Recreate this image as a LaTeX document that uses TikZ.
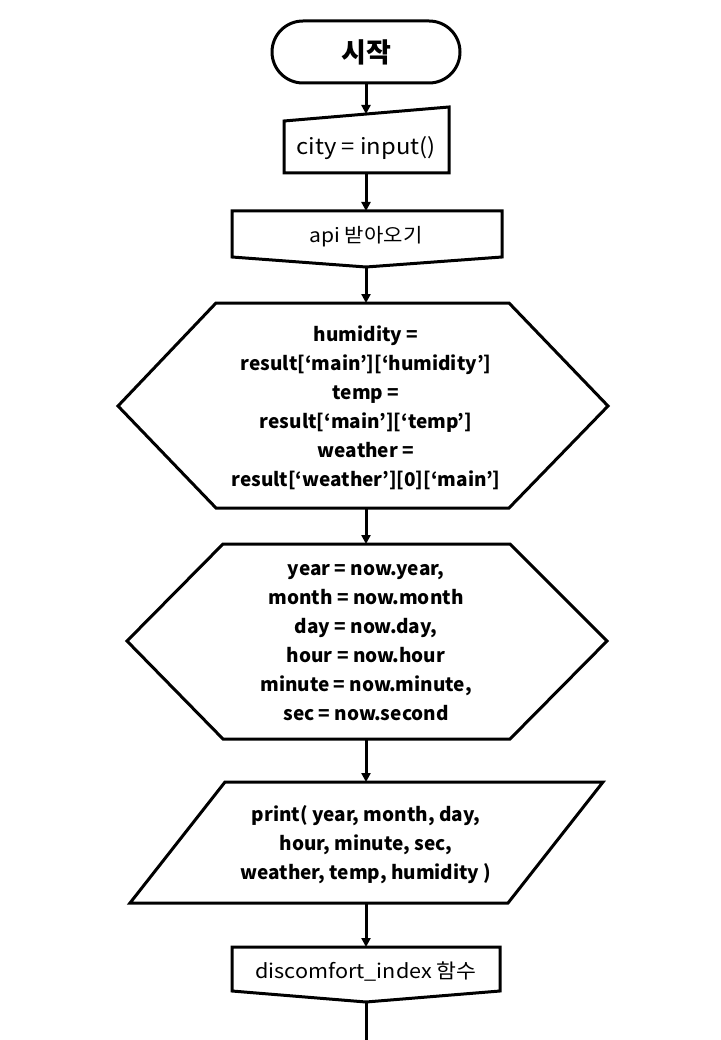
\documentclass[tikz,border=0pt]{standalone}
\usepackage{fontspec}
\setmainfont{Noto Sans CJK KR}
\newfontfamily\widefont[FakeStretch=1.08]{Noto Sans CJK KR}
\usetikzlibrary{arrows.meta}
\begin{document}
\begin{tikzpicture}[x=1pt,y=-1pt,
  shapeline/.style={line width=3pt, line join=miter},
  conn/.style={line width=3pt, -{Triangle[length=9pt,width=9pt]}},
  plainconn/.style={line width=3pt},
  boldtxt/.style={font=\bfseries\fontsize{19}{29}\selectfont, align=center, inner sep=0pt},
  regtxt/.style={font=\widefont\fontsize{19}{29}\selectfont, align=center, inner sep=0pt}]
\useasboundingbox[fill=white] (0,0) rectangle (720,1040);

% start terminal
\draw[shapeline, rounded corners=31pt] (272,21) rectangle (460,83);
\node[boldtxt, font=\bfseries\fontsize{27}{30}\selectfont] (start) at (366,52) {시작};
\coordinate (startB) at (366,83);

% manual input
\draw[shapeline] (284,121) -- (449,107) -- (449,173) -- (284,173) -- cycle;
\node[regtxt, font=\widefont\fontsize{22}{29}\selectfont] (city) at (366,148) {city = input()};
\coordinate (cityT) at (366,114);
\coordinate (cityB) at (366,173);

% api box
\draw[shapeline] (232,211) -- (502,211) -- (502,257) -- (366,267) -- (232,257) -- cycle;
\node[regtxt, font=\widefont\fontsize{19.5}{29}\selectfont] (api) at (366,237) {api 받아오기};
\coordinate (apiT) at (366,211);
\coordinate (apiB) at (366,267);

% hexagon 1
\draw[shapeline] (216,303) -- (509,303) -- (608,406) -- (509,508) -- (216,508) -- (118,406) -- cycle;
\node[boldtxt] (vars) at (366,408) {humidity =\\result[‘main’][‘humidity’]\\temp =\\result[‘main’][‘temp’]\\weather =\\result[‘weather’][0][‘main’]};
\coordinate (varsT) at (366,303);
\coordinate (varsB) at (366,508);

% hexagon 2
\draw[shapeline] (223,544) -- (510,544) -- (607,641) -- (510,739) -- (223,739) -- (127,641) -- cycle;
\node[boldtxt] (time) at (366,643) {year = now.year,\\month = now.month\\day = now.day,\\hour = now.hour\\minute = now.minute,\\sec = now.second};
\coordinate (timeT) at (366,544);
\coordinate (timeB) at (366,739);

% parallelogram
\draw[shapeline] (225,782) -- (603,782) -- (508,903) -- (130,903) -- cycle;
\node[boldtxt] (print) at (366,845) {print( year, month, day,\\hour, minute, sec,\\weather, temp, humidity )};
\coordinate (printT) at (366,782);
\coordinate (printB) at (366,903);

% discomfort box
\draw[shapeline] (232,947) -- (500,947) -- (500,991) -- (366,1002) -- (232,991) -- cycle;
\node[regtxt, font=\widefont\fontsize{20}{29}\selectfont] (disc) at (366,972) {discomfort\_index 함수};
\coordinate (discT) at (366,947);
\coordinate (discB) at (366,1002);
\coordinate (endP) at (366,1040);

% connectors
\draw[conn] (startB) -- (cityT);
\draw[conn] (cityB) -- (apiT);
\draw[conn] (apiB) -- (varsT);
\draw[conn] (varsB) -- (timeT);
\draw[conn] (timeB) -- (printT);
\draw[conn] (printB) -- (discT);
\draw[plainconn] (discB) -- (endP);
\end{tikzpicture}
\end{document}
